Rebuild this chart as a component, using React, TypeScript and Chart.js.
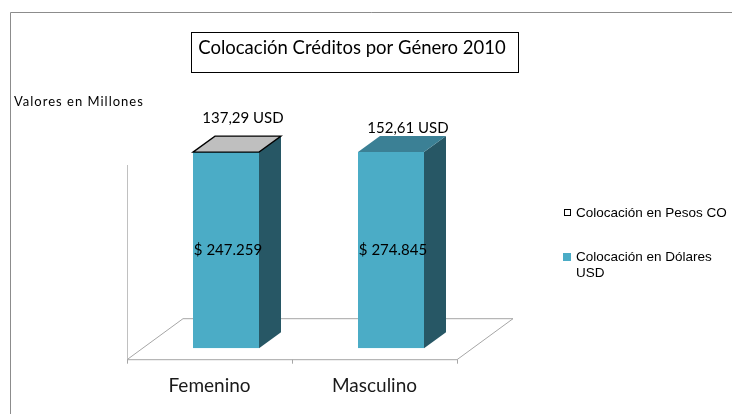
import React, { useEffect, useRef } from "react";
import { Chart, registerables } from "chart.js";

Chart.register(...registerables);

const categories = ["Femenino", "Masculino"];
const pesosValues = [247259, 274845];
const dolaresValues = [137.29, 152.61];
const pesosLabels = ["$ 247.259", "$ 274.845"];
const dolaresLabels = ["137,29 USD", "152,61 USD"];
const legendPesos = "Colocación en Pesos CO";
const legendDolares = ["Colocación en Dólares", "USD"];
const titleText = "Colocación Créditos por Género 2010";
const unitText = "Valores en Millones";

const share = (a: number[], b: number[]) => a.map((v, i) => (v / (v + b[i])) * 100);

const TEAL = "#4bacc6";
const DARK = "#275765";
const TOP = "#3b8095";
const DX = 22;
const DY = -16;
const LABEL_FONT = "15px Lato";

function poly(ctx: CanvasRenderingContext2D, pts: number[][], fill?: string, stroke?: string, lw = 1) {
  ctx.beginPath();
  pts.forEach((p, i) => (i ? ctx.lineTo(p[0], p[1]) : ctx.moveTo(p[0], p[1])));
  ctx.closePath();
  if (fill) {
    ctx.fillStyle = fill;
    ctx.fill();
  }
  if (stroke) {
    ctx.strokeStyle = stroke;
    ctx.lineWidth = lw;
    ctx.stroke();
  }
}

const backdrop = {
  id: "backdrop",
  beforeDatasetsDraw(chart: any) {
    const { ctx, scales } = chart;
    const yBase = scales.y.getPixelForValue(0);
    const yTop = scales.y.getPixelForValue(100);
    const x0 = scales.x.left - 16.5;
    const x1 = scales.x.right - 16.5;
    const front = yBase + 11.5;
    ctx.save();
    // outer frame: left and top edges only are in view
    ctx.strokeStyle = "#8c8c8c";
    ctx.lineWidth = 1;
    ctx.beginPath();
    ctx.moveTo(10.5, 414);
    ctx.lineTo(10.5, 12.5);
    ctx.lineTo(732, 12.5);
    ctx.stroke();
    // floor
    ctx.strokeStyle = "#a6a6a6";
    ctx.beginPath();
    ctx.moveTo(x0, front);
    ctx.lineTo(x0 + 56, front - 41);
    ctx.lineTo(x1 + 56, front - 41);
    ctx.lineTo(x1, front);
    ctx.stroke();
    // value axis
    ctx.strokeStyle = "#c0c0c0";
    ctx.beginPath();
    ctx.moveTo(x0 + 0.5, front);
    ctx.lineTo(x0 + 0.5, yTop + 13);
    ctx.stroke();
    // category axis with ticks
    ctx.strokeStyle = "#a6a6a6";
    ctx.beginPath();
    ctx.moveTo(x0, front);
    ctx.lineTo(x1, front);
    [x0, (x0 + x1) / 2, x1].forEach((x) => {
      ctx.moveTo(x + 0.5, front);
      ctx.lineTo(x + 0.5, front + 4);
    });
    ctx.stroke();
    ctx.restore();
  },
};

const overlay = {
  id: "overlay",
  afterDatasetsDraw(chart: any) {
    const { ctx } = chart;
    const barMeta = chart.getDatasetMeta(0).data;
    ctx.save();
    barMeta.forEach((bar: any, i: number) => {
      const w = bar.width;
      const l = bar.x - w / 2;
      const r = bar.x + w / 2;
      const t = bar.y;
      const b = bar.base;
      poly(ctx, [[r, t], [r + DX, t + DY], [r + DX, b + DY], [r, b]], DARK);
      if (i === 0) {
        poly(ctx, [[l, t], [l + DX, t + DY], [r + DX, t + DY], [r, t]], "#bfbfbf", "#000000", 1.3);
      } else {
        poly(ctx, [[l, t], [l + DX, t + DY], [r + DX, t + DY], [r, t]], TOP);
      }
      ctx.fillStyle = "#000000";
      ctx.font = LABEL_FONT;
      ctx.textAlign = "center";
      ctx.textBaseline = "middle";
      ctx.fillText(pesosLabels[i], bar.x + 2, (t + b) / 2 + 0.5);
      ctx.fillText(dolaresLabels[i], bar.x + 17, i === 0 ? t - 34 : t - 24);
    });

    // title box
    ctx.fillStyle = "#ffffff";
    ctx.fillRect(191.5, 32.5, 327, 40);
    ctx.strokeStyle = "#000000";
    ctx.lineWidth = 1;
    ctx.strokeRect(191.5, 32.5, 327, 40);
    ctx.fillStyle = "#000000";
    ctx.font = "18.5px Lato";
    ctx.textAlign = "center";
    ctx.textBaseline = "middle";
    ctx.fillText(titleText, 352, 48);

    // unit note
    ctx.font = "13px Lato";
    ctx.textAlign = "left";
    (ctx as any).letterSpacing = "1px";
    ctx.fillText(unitText, 14, 102);
    (ctx as any).letterSpacing = "0px";

    // legend
    ctx.font = "13.5px 'Liberation Sans'";
    ctx.fillStyle = "#000000";
    ctx.strokeStyle = "#000000";
    ctx.strokeRect(564.5, 209.5, 6, 6);
    ctx.fillText(legendPesos, 576, 213);
    ctx.fillStyle = TEAL;
    ctx.fillRect(563, 253, 8, 8);
    ctx.fillStyle = "#000000";
    legendDolares.forEach((line, i) => ctx.fillText(line, 576, 257 + i * 16));
    ctx.restore();
  },
};

export default function App() {
  const ref = useRef<HTMLCanvasElement>(null);
  useEffect(() => {
    document.body.style.margin = "0";
    const chart = new Chart(ref.current!, {
      type: "bar",
      data: {
        labels: categories,
        datasets: [
          {
            label: "Pesos",
            data: share(pesosValues, dolaresValues),
            backgroundColor: TEAL,
            borderWidth: 0,
            barPercentage: 0.8,
            categoryPercentage: 0.5,
            stack: "s",
          },
          {
            label: "Dolares",
            data: share(dolaresValues, pesosValues),
            backgroundColor: "#ffffff",
            borderWidth: 0,
            barPercentage: 0.8,
            categoryPercentage: 0.5,
            stack: "s",
          },
        ],
      },
      options: {
        responsive: false,
        animation: false,
        layout: { padding: { left: 143.5, right: 258.5, top: 152, bottom: -1 } },
        plugins: { legend: { display: false }, title: { display: false }, tooltip: { enabled: false } },
        scales: {
          x: {
            stacked: true,
            border: { display: false },
            grid: { display: false },
            ticks: { font: { family: "Lato", size: 19 }, color: "#1a1a1a", labelOffset: -16.5, padding: 18, maxRotation: 0 },
          },
          y: { stacked: true, display: false, min: 0, max: 100 },
        },
      },
      plugins: [backdrop, overlay],
    });
    return () => chart.destroy();
  }, []);
  return <canvas ref={ref} width={732} height={414} style={{ display: "block" }} />;
}
